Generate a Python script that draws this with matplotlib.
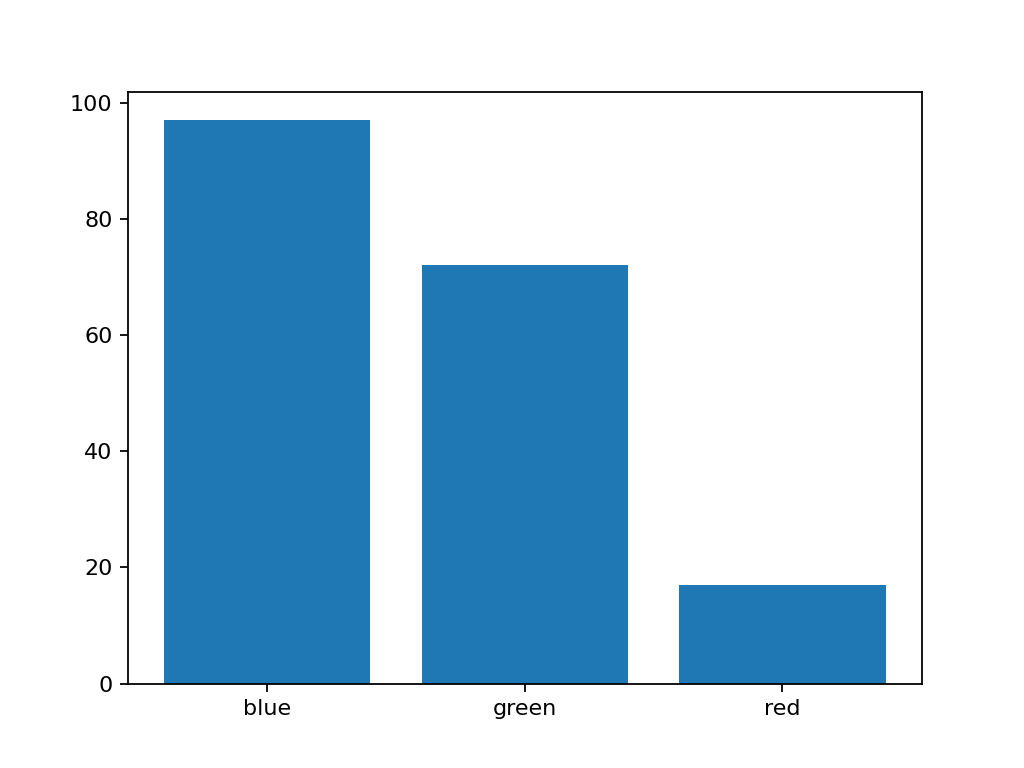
import matplotlib
matplotlib.use('Agg')
import matplotlib.pyplot as plt

# bar data
categories = ['blue', 'green', 'red']
counts = [97, 72, 17]

fig, ax = plt.subplots(figsize=(6.4, 4.8), dpi=160)
ax.bar(categories, counts)

plt.savefig('out.png', dpi=160)
